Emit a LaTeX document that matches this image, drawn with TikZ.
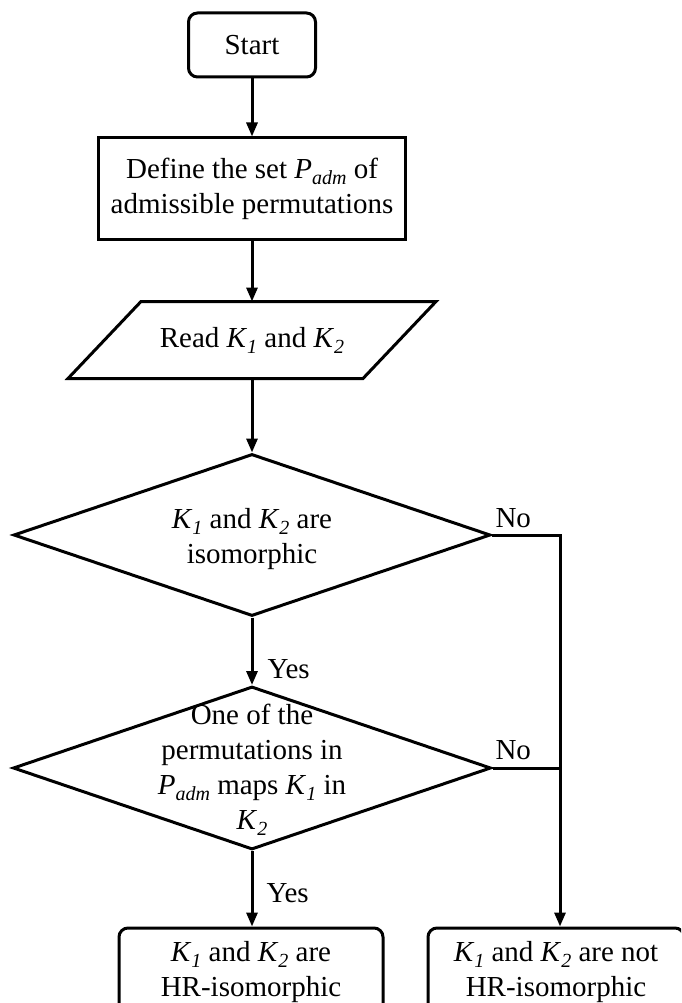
\documentclass[tikz,border=0pt]{standalone}
\usepackage{fontspec}
\setmainfont{Liberation Serif}
\usetikzlibrary{shapes.geometric,arrows.meta}

% italic subscripts set lower and smaller than the base letter
\newcommand{\lowsub}[1]{\raisebox{-6pt}{\fontsize{20}{20}\selectfont\textit{#1}}}
\newcommand{\Kone}{\textit{K}\lowsub{1}}
\newcommand{\Ktwo}{\textit{K}\lowsub{2}}
\newcommand{\Padm}{\textit{P}\lowsub{adm}}

\begin{document}
\begin{tikzpicture}[x=1pt,y=-1pt,
  font=\fontsize{29}{35}\selectfont,
  line width=3pt,
  box/.style={draw, rectangle, inner sep=0pt, align=center},
  term/.style={box, rounded corners=9pt},
  decision/.style={draw, diamond, inner sep=0pt},
  caption/.style={align=center, inner sep=0pt},
  tag/.style={anchor=base west, inner sep=0pt},
  flow/.style={-{Triangle[length=14pt,width=11pt]}}]

\useasboundingbox (0,0) rectangle (681,1003);
\clip (0,0) rectangle (681,1003);

% process column
\node[term, minimum width=127, minimum height=64] (start) at (252,45) {Start};
\node[box, minimum width=307, minimum height=101] (define) at (252,188.5)
  {Define the set \Padm\ of\\admissible permutations};

% input parallelogram
\node[caption, minimum width=292, minimum height=74] (read) at (252,340) {Read \Kone\ and \Ktwo};
\draw ([xshift=36.5pt]read.north west) -- ([xshift=36.5pt]read.north east)
   -- ([xshift=-36.5pt]read.south east) -- ([xshift=-36.5pt]read.south west) -- cycle;

% decisions
\node[decision, minimum width=477, minimum height=162] (iso) at (252,535) {};
\node[caption] (isotext) at (252,539) {\Kone\ and \Ktwo\ are\\isomorphic};

\node[decision, minimum width=478, minimum height=163] (perm) at (252,768) {};
\node[caption] (permtext) at (252,770) {One of the\\permutations in\\\Padm\ maps \Kone\ in\\\Ktwo};

% outcomes
\node[term, minimum width=264, minimum height=88] (hr) at (251,972)
  {\Kone\ and \Ktwo\ are\\HR-isomorphic};
\node[term, minimum width=256, minimum height=88] (nothr) at (556,972)
  {\Kone\ and \Ktwo\ are not\\HR-isomorphic};

% connectors
\draw[flow] (start) -- (define);
\draw[flow] (define) -- (read);
\draw[flow] (read) -- (iso);
\draw[flow] (iso) -- (perm);
\draw[flow] (perm.south) -- (perm.south |- hr.north);

\coordinate (rail) at (560,535);
\draw[flow] (iso.east) -- (rail) -- (rail |- nothr.north);
\draw (perm.east) -- (perm.east -| rail);

% branch labels
\node[tag] (no1) at (494,527) {No};
\node[tag] (no2) at (494,759) {No};
\node[tag] (yes1) at (266,678) {Yes};
\node[tag] (yes2) at (265,902) {Yes};
\end{tikzpicture}
\end{document}
